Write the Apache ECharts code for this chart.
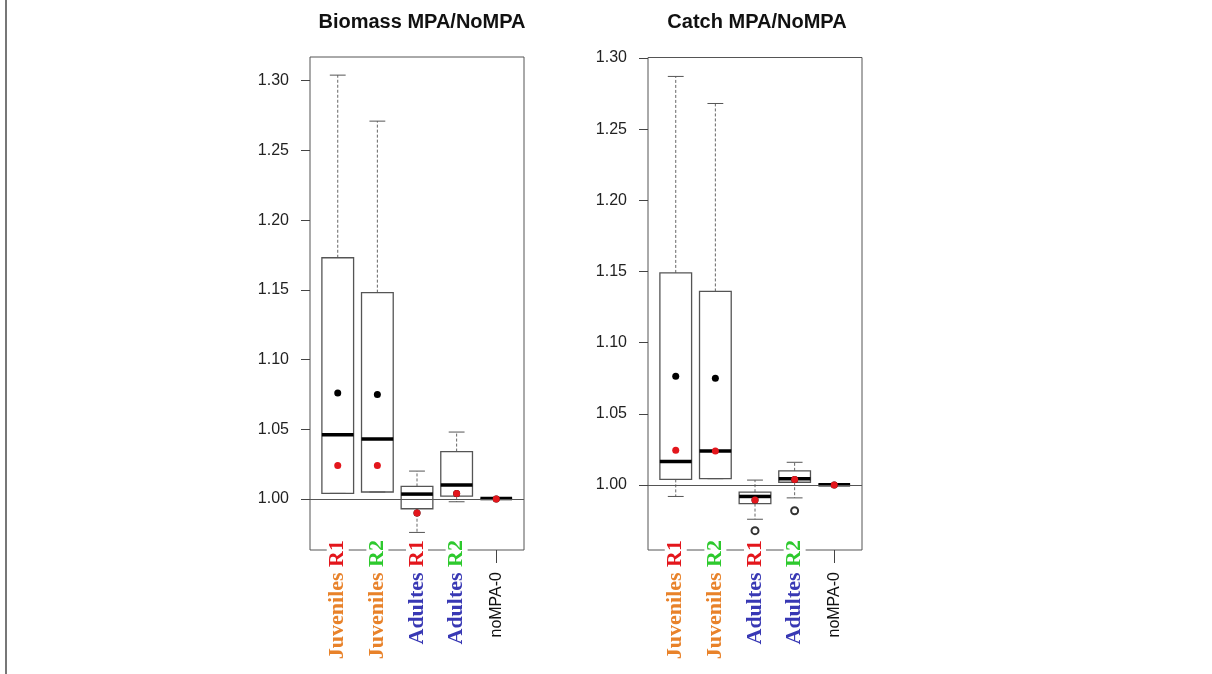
<!DOCTYPE html>
<html>
<head>
<meta charset="utf-8">
<script src="https://cdn.jsdelivr.net/npm/echarts@6/dist/echarts.min.js"></script>
<style>
html,body{margin:0;padding:0;background:#fff;}
#main{width:1212px;height:674px;}
</style>
</head>
<body>
<div id="main"></div>
<script>
// ---- data ----
const categories = ['Juveniles R1', 'Juveniles R2', 'Adultes R1', 'Adultes R2', 'noMPA-0'];
const positions = [1, 2, 3, 4, 5];
const yTicks = [1.00, 1.05, 1.10, 1.15, 1.20, 1.25, 1.30];

// [lowerWhisker, Q1, median, Q3, upperWhisker]
const biomassBox = [
  [1.004, 1.004, 1.046, 1.173, 1.304],
  [1.005, 1.005, 1.043, 1.148, 1.271],
  [0.976, 0.993, 1.0035, 1.009, 1.020],
  [0.998, 1.002, 1.010, 1.034, 1.048],
  [1.000, 1.000, 1.0003, 1.000, 1.000]
];
const biomassMean = [1.076, 1.075, 0.990, 1.004, 1.000];
const biomassRed = [1.024, 1.024, 0.990, 1.004, 1.000];
const biomassOutliers = [];

const catchBox = [
  [0.992, 1.004, 1.0165, 1.149, 1.287],
  [1.0045, 1.0045, 1.024, 1.136, 1.268],
  [0.976, 0.987, 0.992, 0.995, 1.0035],
  [0.991, 1.002, 1.0045, 1.010, 1.016],
  [1.000, 1.000, 1.0003, 1.000, 1.000]
];
const catchMean = [1.0765, 1.075, 0.9895, 1.004, 1.000];
const catchRed = [1.0245, 1.024, 0.9895, 1.004, 1.000];
const catchOutliers = [[3, 0.968], [4, 0.982]];

const titles = ['Biomass MPA/NoMPA', 'Catch MPA/NoMPA'];

// ---- helpers ----
const COL = {orange: '#E8822A', red: '#E3161C', green: '#2DC92D', blue: '#3838B4'};

function labelFormatter(v) {
  const name = categories[Math.round(v) - 1];
  if (!name) return '';
  if (name === 'noMPA-0') return '{nm|noMPA-0}';
  const parts = name.split(' ');
  const first = parts[0] === 'Juveniles' ? 'ju' : 'ad';
  const second = parts[1] === 'R1' ? 'r1' : 'r2';
  return '{' + first + '|' + parts[0] + ' }{' + second + '|' + parts[1] + '}';
}
const serifBold = {fontFamily: 'Liberation Serif', fontWeight: 'bold', fontSize: 22, backgroundColor: '#fff', lineHeight: 24};
const rich = {
  ju: Object.assign({}, serifBold, {color: COL.orange}),
  ad: Object.assign({}, serifBold, {color: COL.blue}),
  r1: Object.assign({}, serifBold, {color: COL.red}),
  r2: Object.assign({}, serifBold, {color: COL.green}),
  nm: {fontFamily: 'Liberation Sans', fontSize: 16, color: '#111', padding: [0, 32, 0, 0]}
};

function renderBox(params, api) {
  const x = api.value(0);
  const lo = api.value(1), q1 = api.value(2), md = api.value(3), q3 = api.value(4), hi = api.value(5);
  const half = api.size([0.8, 0])[0] / 2;
  const cap = half / 2;
  const c = api.coord([x, 0])[0];
  const yLo = api.coord([x, lo])[1], yQ1 = api.coord([x, q1])[1], yMd = api.coord([x, md])[1];
  const yQ3 = api.coord([x, q3])[1], yHi = api.coord([x, hi])[1];
  const wStyle = {stroke: '#666', lineWidth: 1, lineDash: [3, 2]};
  const sStyle = {stroke: '#555', lineWidth: 1};
  return {
    type: 'group',
    children: [
      {type: 'line', shape: {x1: c, y1: yQ3, x2: c, y2: yHi}, style: wStyle},
      {type: 'line', shape: {x1: c, y1: yQ1, x2: c, y2: yLo}, style: wStyle},
      {type: 'line', shape: {x1: c - cap, y1: yHi, x2: c + cap, y2: yHi}, style: sStyle},
      {type: 'line', shape: {x1: c - cap, y1: yLo, x2: c + cap, y2: yLo}, style: sStyle},
      {type: 'rect', shape: {x: c - half, y: yQ3, width: half * 2, height: yQ1 - yQ3}, style: {fill: 'none', stroke: '#555', lineWidth: 1.3}},
      {type: 'line', shape: {x1: c - half, y1: yMd, x2: c + half, y2: yMd}, style: {stroke: '#000', lineWidth: 3.5}}
    ]
  };
}

const grids = [
  {left: 310, top: 57, width: 214, height: 493, show: true, borderColor: '#555', borderWidth: 1, backgroundColor: 'transparent'},
  {left: 648, top: 57.5, width: 214, height: 492.5, show: true, borderColor: '#555', borderWidth: 1, backgroundColor: 'transparent'}
];
const yRanges = [[0.9634, 1.3170], [0.9544, 1.3003]];

const xAxes = grids.map((g, i) => ({
  type: 'value', gridIndex: i, min: 0.3, max: 5.7,
  axisLine: {show: false}, splitLine: {show: false},
  axisTick: {show: true, customValues: positions, length: 13, lineStyle: {color: '#444'}},
  axisLabel: {customValues: positions, rotate: 90, margin: -10, formatter: labelFormatter, rich: rich}
}));
const yAxes = grids.map((g, i) => ({
  type: 'value', gridIndex: i, min: yRanges[i][0], max: yRanges[i][1],
  axisLine: {show: false}, splitLine: {show: false},
  axisTick: {show: true, customValues: yTicks, length: 9, lineStyle: {color: '#444'}},
  axisLabel: {customValues: yTicks, margin: 21, fontFamily: 'Liberation Sans', fontSize: 16, color: '#222',
    formatter: v => v.toFixed(2)}
}));

function panelSeries(i, boxes, means, reds, outs) {
  return [
    {
      type: 'custom', xAxisIndex: i, yAxisIndex: i, z: 3,
      renderItem: renderBox,
      encode: {x: 0, y: [1, 2, 3, 4, 5]},
      data: boxes.map((b, k) => [positions[k]].concat(b)),
      markLine: {silent: true, symbol: 'none', label: {show: false}, animation: false,
        lineStyle: {color: '#555', width: 1, type: 'solid'}, data: [{yAxis: 1}]}
    },
    {type: 'scatter', xAxisIndex: i, yAxisIndex: i, z: 5, symbol: 'circle', symbolSize: 7,
      itemStyle: {color: '#000', opacity: 1}, data: means.map((v, k) => [positions[k], v])},
    {type: 'scatter', xAxisIndex: i, yAxisIndex: i, z: 6, symbol: 'circle', symbolSize: 7,
      itemStyle: {color: COL.red, opacity: 1}, data: reds.map((v, k) => [positions[k], v])},
    {type: 'scatter', xAxisIndex: i, yAxisIndex: i, z: 4, symbol: 'emptyCircle', symbolSize: 7,
      itemStyle: {color: '#333', borderWidth: 1, opacity: 1}, data: outs}
  ];
}

const chart = echarts.init(document.getElementById('main'), null, {renderer: 'canvas'});
chart.setOption({
  animation: false,
  backgroundColor: '#fff',
  title: [
    {text: titles[0], left: 417, top: 7, textAlign: 'center',
      textStyle: {fontFamily: 'Liberation Sans', fontWeight: 'bold', fontSize: 20, color: '#111'}},
    {text: titles[1], left: 752, top: 7, textAlign: 'center',
      textStyle: {fontFamily: 'Liberation Sans', fontWeight: 'bold', fontSize: 20, color: '#111'}}
  ],
  graphic: [
    {type: 'line', shape: {x1: 6, y1: 0, x2: 6, y2: 674}, style: {stroke: '#777', lineWidth: 2}}
  ],
  grid: grids,
  xAxis: xAxes,
  yAxis: yAxes,
  series: [].concat(
    panelSeries(0, biomassBox, biomassMean, biomassRed, biomassOutliers),
    panelSeries(1, catchBox, catchMean, catchRed, catchOutliers)
  )
});
</script>
</body>
</html>
